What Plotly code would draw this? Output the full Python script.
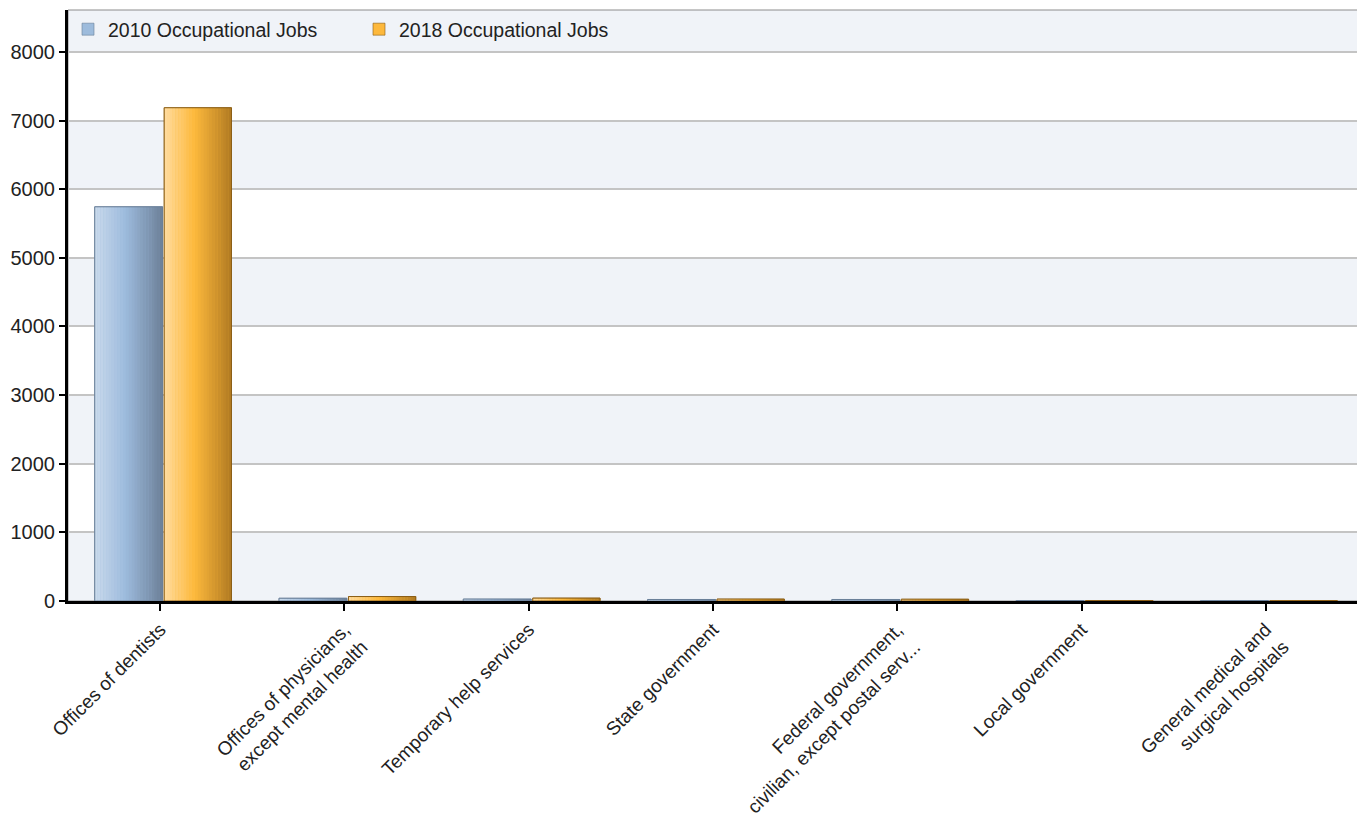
import plotly.graph_objects as go

categories = [
    "Offices of dentists",
    "Offices of physicians,<br>except mental health",
    "Temporary help services",
    "State government",
    "Federal government,<br>civilian, except postal serv...",
    "Local government",
    "General medical and<br>surgical hospitals",
]
jobs_2010 = [5743, 40, 28, 22, 22, 6, 4]
jobs_2018 = [7186, 65, 42, 28, 26, 6, 4]
y_ticks = [0, 1000, 2000, 3000, 4000, 5000, 6000, 7000, 8000]
y_max = 8610

series = [
    dict(name="2010 Occupational Jobs", values=jobs_2010, offset=-0.355, width=0.368,
         stops=[(0.0, (202, 218, 236)), (0.45, (157, 187, 221)), (1.0, (108, 128, 152))],
         legend_color="#9dbbdc", edge="#6a7f98"),
    dict(name="2018 Occupational Jobs", values=jobs_2018, offset=0.022, width=0.365,
         stops=[(0.0, (255, 220, 160)), (0.45, (253, 185, 60)), (1.0, (176, 122, 34))],
         legend_color="#fdb83c", edge="#8a5d16"),
]


def grad(stops, t):
    for (t0, c0), (t1, c1) in zip(stops[:-1], stops[1:]):
        if t <= t1:
            f = (t - t0) / (t1 - t0)
            return "rgb(%d,%d,%d)" % tuple(round(a + (b - a) * f) for a, b in zip(c0, c1))
    return "rgb(%d,%d,%d)" % stops[-1][1]


fig = go.Figure()
n_strips = 24
for s in series:
    fig.add_trace(go.Bar(
        x=categories, y=s["values"], name=s["name"], offset=s["offset"], width=s["width"],
        marker=dict(color=s["legend_color"], line=dict(color=s["edge"], width=0.6)),
        showlegend=True, legendgroup=s["name"],
    ))
    sw = s["width"] / n_strips
    for i in range(n_strips):
        t = (i + 0.5) / n_strips
        fig.add_trace(go.Bar(
            x=categories, y=s["values"], offset=s["offset"] + i * sw, width=sw * 1.08,
            marker=dict(color=grad(s["stops"], t), line=dict(width=0)),
            showlegend=False, hoverinfo="skip", legendgroup=s["name"],
        ))
    fig.add_trace(go.Bar(
        x=categories, y=s["values"], offset=s["offset"], width=s["width"],
        marker=dict(color="rgba(0,0,0,0)", line=dict(color=s["edge"], width=1)),
        showlegend=False, hoverinfo="skip", legendgroup=s["name"],
    ))

band_color = "#f0f3f8"
shapes = []
for lo in [0, 2000, 4000, 6000, 8000]:
    shapes.append(dict(type="rect", xref="paper", yref="y", x0=0, x1=1,
                       y0=lo, y1=min(lo + 1000, y_max), fillcolor=band_color,
                       line=dict(width=0), layer="below"))
shapes.append(dict(type="rect", xref="paper", yref="paper", x0=0, x1=1, y0=0, y1=1,
                   line=dict(color="#8c8c8c", width=1), fillcolor="rgba(0,0,0,0)", layer="below"))

# page body has an 8px default margin: compensate so the plot lands where the reference has it
fig.update_layout(
    width=1357, height=817,
    margin=dict(l=60, r=7, t=2, b=224),
    paper_bgcolor="white", plot_bgcolor="white",
    font=dict(family="Liberation Sans, Arial, sans-serif", size=20, color="#222222"),
    barmode="overlay",
    shapes=shapes,
    legend=dict(orientation="h", x=0.0, y=1.0, xanchor="left", yanchor="top",
                bgcolor="rgba(0,0,0,0)", font=dict(size=19.5, color="#222222"),
                itemwidth=30, entrywidth=246, traceorder="normal", tracegroupgap=0),
    showlegend=True,
)
fig.update_xaxes(
    tickangle=-45, showline=True, linecolor="black", linewidth=3,
    ticks="outside", ticklen=7, tickwidth=2, tickcolor="black",
    showgrid=False, tickfont=dict(size=19, color="#222222"),
    range=[-0.5, 6.5], automargin=False,
)
fig.update_yaxes(
    range=[0, y_max], tickvals=y_ticks, showline=True, linecolor="black", linewidth=3,
    ticks="outside", ticklen=6, tickwidth=2, tickcolor="black",
    showgrid=True, gridcolor="#c4c4c4", gridwidth=1.5, zeroline=False,
    tickfont=dict(size=20, color="#222222"), automargin=False,
)
fig.write_html("out.html")
